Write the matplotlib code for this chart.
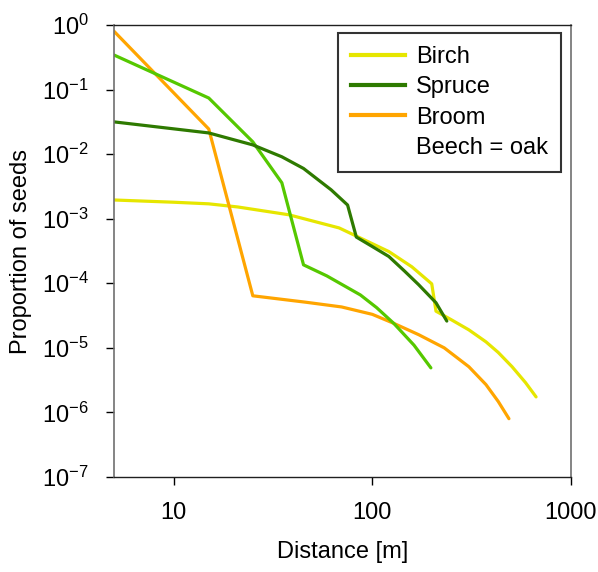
import matplotlib
matplotlib.use('Agg')
import matplotlib.pyplot as plt
from matplotlib.lines import Line2D
from matplotlib.ticker import FixedLocator, NullLocator

# data
birch_x = [5, 10, 15, 21, 38, 68, 100, 121, 158, 199, 209, 251, 306, 373, 430, 505, 590, 667]
birch_y = [1.95e-3, 1.8e-3, 1.7e-3, 1.52e-3, 1.15e-3, 7.2e-4, 4.1e-4, 3.1e-4, 1.8e-4, 9.8e-5,
           3.7e-5, 2.7e-5, 1.9e-5, 1.24e-5, 8.5e-6, 5.1e-6, 2.9e-6, 1.74e-6]

spruce_x = [5, 15, 25, 35, 45, 62, 75, 83, 100, 121, 145, 171, 209, 237]
spruce_y = [0.0316, 0.0213, 0.0139, 9.1e-3, 6.0e-3, 2.8e-3, 1.63e-3, 5.2e-4, 3.7e-4, 2.6e-4,
            1.55e-4, 9.5e-5, 5.0e-5, 2.6e-5]

broom_x = [5, 15, 25, 46, 70, 100, 128, 171, 230, 306, 373, 430, 487]
broom_y = [0.8, 0.0245, 6.4e-5, 5.1e-5, 4.3e-5, 3.3e-5, 2.4e-5, 1.6e-5, 1.0e-5, 5.1e-6,
           2.7e-6, 1.48e-6, 8e-7]

beech_x = [5, 15, 25, 35, 45, 59, 87, 105, 128, 162, 197]
beech_y = [0.343, 0.074, 0.0155, 3.6e-3, 1.93e-4, 1.3e-4, 6.6e-5, 4.2e-5, 2.4e-5, 1.1e-5, 4.9e-6]

x_ticks = [10, 100, 1000]
y_exponents = [0, -1, -2, -3, -4, -5, -6, -7]

plt.rcParams['font.family'] = ['Liberation Sans', 'DejaVu Sans']
plt.rcParams['mathtext.fontset'] = 'custom'
plt.rcParams['mathtext.rm'] = 'Liberation Sans'
plt.rcParams['mathtext.it'] = 'Liberation Sans'

fig = plt.figure(figsize=(5.98, 5.72), dpi=100)
ax = fig.add_axes([114 / 598, 1 - 477 / 572, 457 / 598, 452 / 572])

lw = 2.3
ax.plot(birch_x, birch_y, color='#e6e600', lw=lw, solid_capstyle='round')
ax.plot(broom_x, broom_y, color='#ffa500', lw=lw, solid_capstyle='round')
ax.plot(beech_x, beech_y, color='#55c800', lw=lw, solid_capstyle='round')
ax.plot(spruce_x, spruce_y, color='#2e7a00', lw=lw, solid_capstyle='round')

ax.set_xscale('log')
ax.set_yscale('log')
ax.set_xlim(5, 1000)
ax.set_ylim(1e-7, 1)

ax.xaxis.set_major_locator(FixedLocator(x_ticks))
ax.xaxis.set_minor_locator(NullLocator())
ax.set_xticklabels([str(v) for v in x_ticks])
ax.yaxis.set_major_locator(FixedLocator([10.0 ** e for e in y_exponents]))
ax.yaxis.set_minor_locator(NullLocator())
ax.set_yticklabels([r'$\mathregular{10^{%d}}$' % e for e in y_exponents])

ax.tick_params(axis='both', which='major', direction='out', length=6, width=1,
               labelsize=17, colors='black')
ax.tick_params(axis='x', pad=12)
ax.tick_params(axis='y', pad=12)

for side in ['left', 'right']:
    ax.spines[side].set_color('#707070')
    ax.spines[side].set_linewidth(1.2)
for side in ['top', 'bottom']:
    ax.spines[side].set_color('#202020')
    ax.spines[side].set_linewidth(1.0)

ax.set_xlabel('Distance [m]', fontsize=17, labelpad=12)
ax.set_ylabel('Proportion of seeds', fontsize=17, labelpad=7)

handles = [
    Line2D([], [], color='#e6e600', lw=3),
    Line2D([], [], color='#2e7a00', lw=3),
    Line2D([], [], color='#ffa500', lw=3),
    Line2D([], [], color='none', lw=3),
]
labels = ['Birch', 'Spruce', 'Broom', 'Beech = oak']
leg = ax.legend(handles, labels, loc='upper right', bbox_to_anchor=(0.978, 0.982),
                borderaxespad=0, fontsize=17, frameon=True, fancybox=False,
                handlelength=2.3, handletextpad=0.45, labelspacing=0.35,
                borderpad=0.55)
leg.get_frame().set_edgecolor('black')
leg.get_frame().set_linewidth(1.5)

fig.savefig('out.png', dpi=100)
